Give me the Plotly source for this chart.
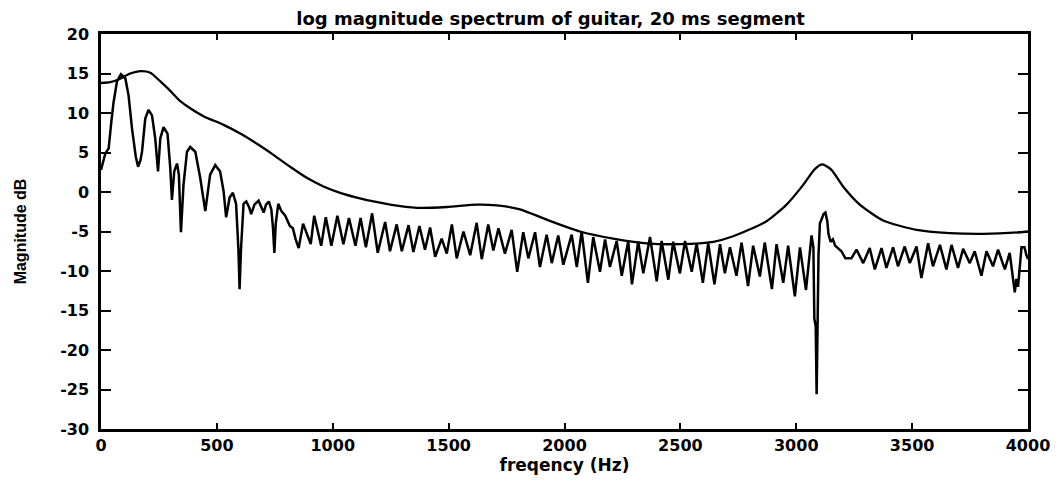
import plotly.graph_objects as go

# ---------------- data ----------------
# smooth (LPC-like) spectral envelope
env_freq = [0, 40, 80, 126, 170, 213, 256, 299, 342, 385, 442, 529, 601, 673, 744,
            816, 888, 960, 1032, 1104, 1176, 1248, 1362, 1492, 1621, 1708, 1808, 1923,
            2067, 2210, 2354, 2498, 2642, 2728, 2872, 2958, 3030, 3080, 3113, 3152,
            3202, 3274, 3375, 3519, 3662, 3806, 3964, 4000]
env_db = [13.8, 13.9, 14.3, 15.0, 15.3, 15.1, 14.0, 12.8, 11.5, 10.6, 9.6, 8.5, 7.4, 6.1, 4.7,
          3.2, 1.8, 0.7, -0.1, -0.7, -1.2, -1.6, -2.0, -1.9, -1.6, -1.7, -2.2, -3.5,
          -5.0, -5.9, -6.5, -6.6, -6.3, -5.6, -3.7, -1.6, 0.9, 2.9, 3.5, 2.8,
          0.7, -1.6, -3.6, -4.8, -5.2, -5.3, -5.1, -5.0]

# log magnitude spectrum (20 ms segment)
spec_freq = [0, 10, 19, 28, 33, 45, 54, 69, 86, 105, 119, 134, 150, 160, 170, 177, 191, 205,
             220, 234, 246, 256, 270, 287, 299, 306, 316, 328, 336, 345, 356, 371, 385, 407,
             428, 450, 471, 493, 514, 529, 540, 555, 569, 583, 593, 598, 604, 615, 627, 640,
             648, 662, 680, 693, 702, 712, 724, 735, 742, 748, 754, 765, 778, 795, 815, 828,
             840, 853, 872, 905, 920, 950, 970, 994, 1020, 1046, 1070, 1098, 1120, 1143, 1170,
             1194, 1226, 1247, 1276, 1298, 1327, 1348, 1374, 1398, 1420, 1442, 1470, 1492,
             1514, 1535, 1564, 1593, 1621, 1643, 1671, 1693, 1715, 1743, 1772, 1796, 1822,
             1844, 1873, 1894, 1923, 1945, 1973, 1995, 2031, 2053, 2074, 2101, 2124, 2153,
             2175, 2196, 2225, 2247, 2275, 2291, 2318, 2340, 2369, 2398, 2419, 2448, 2469,
             2498, 2520, 2549, 2570, 2597, 2620, 2647, 2671, 2692, 2714, 2742, 2764, 2792,
             2814, 2843, 2864, 2895, 2915, 2944, 2965, 2994, 3016, 3042, 3066, 3074, 3078,
             3084, 3088, 3092, 3096, 3102, 3110, 3118, 3126, 3134, 3139, 3148, 3158, 3168,
             3180, 3195, 3212, 3238, 3260, 3289, 3317, 3339, 3368, 3389, 3418, 3439, 3468,
             3490, 3519, 3540, 3569, 3590, 3620, 3648, 3670, 3698, 3720, 3749, 3770, 3799,
             3821, 3849, 3871, 3900, 3921, 3943, 3950, 3957, 3972, 3985, 3993, 4000]
spec_db = [2.8, 3.8, 4.9, 5.3, 5.5, 9.0, 11.3, 14.0, 14.9, 14.4, 12.2, 8.0, 4.5, 3.2, 4.0, 5.1,
           9.3, 10.4, 9.7, 6.8, 2.6, 6.8, 8.2, 7.4, 3.0, -1.0, 2.6, 3.6, 2.2, -5.1, 0.9, 5.1,
           5.7, 5.1, 1.8, -2.4, 2.2, 3.4, 2.6, 0.1, -3.2, -0.7, -0.1, -1.5, -7.3, -12.3, -7.3,
           -1.5, -1.2, -2.0, -2.8, -1.6, -1.1, -2.0, -2.6, -1.6, -1.2, -2.2, -4.5, -7.7, -4.0,
           -1.5, -2.4, -3.0, -4.3, -4.6, -6.0, -7.1, -4.0, -6.6, -3.0, -6.8, -3.2, -6.8, -3.0,
           -6.6, -3.3, -6.8, -3.3, -7.0, -2.7, -7.7, -3.8, -7.5, -4.1, -7.5, -4.2, -7.6, -4.3,
           -7.3, -4.5, -8.2, -5.9, -7.8, -4.1, -8.4, -5.0, -8.0, -3.9, -8.5, -4.1, -7.4, -4.6,
           -7.8, -4.8, -10.1, -5.1, -8.4, -5.1, -9.5, -5.4, -9.0, -5.5, -9.2, -5.4, -9.5, -5.0,
           -11.5, -5.7, -10.1, -6.0, -9.5, -6.2, -10.6, -6.2, -11.7, -6.3, -10.3, -5.7, -11.3,
           -6.2, -11.1, -6.3, -10.3, -6.2, -10.1, -6.5, -11.5, -6.5, -11.7, -6.6, -10.3, -7.0,
           -10.6, -6.4, -11.9, -6.8, -10.7, -6.4, -12.3, -6.6, -11.5, -6.8, -13.2, -7.0, -12.4,
           -5.5, -7.0, -16.0, -17.0, -25.6, -17.0, -8.0, -4.0, -3.3, -2.8, -2.6, -3.7, -5.3,
           -6.3, -6.0, -6.8, -7.1, -7.5, -8.4, -8.4, -7.3, -9.0, -7.1, -9.8, -7.1, -9.6, -7.0,
           -9.4, -6.9, -9.0, -6.9, -10.9, -6.5, -9.4, -6.7, -9.8, -6.7, -9.6, -7.2, -9.0, -7.5,
           -10.6, -7.5, -9.4, -7.3, -9.8, -7.7, -12.7, -11.0, -12.0, -7.0, -7.0, -8.0, -8.5]

x_ticks = [0, 500, 1000, 1500, 2000, 2500, 3000, 3500, 4000]
x_labels = ["0", "500", "1000", "1500", "2000", "2500", "3000", "3500", "4000"]
y_ticks = [-30, -25, -20, -15, -10, -5, 0, 5, 10, 15, 20]
y_labels = ["-30", "-25", "-20", "-15", "-10", "-5", "0", "5", "10", "15", "20"]

title_text = "log magnitude spectrum of guitar, 20 ms segment"
x_title = "freqency (Hz)"
y_title = "Magnitude dB"

# ---------------- figure ----------------
fig = go.Figure()
fig.add_trace(go.Scatter(x=spec_freq, y=spec_db, mode="lines",
                         line=dict(color="black", width=2.5), showlegend=False,
                         hoverinfo="skip"))
fig.add_trace(go.Scatter(x=env_freq, y=env_db, mode="lines",
                         line=dict(color="black", width=2.3, shape="spline", smoothing=0.6),
                         showlegend=False, hoverinfo="skip"))

tick_font = dict(family="DejaVu Sans", size=16, color="black", weight="bold")

fig.update_layout(
    width=1062, height=482,
    margin=dict(l=101, r=34, t=34, b=46, pad=0),
    paper_bgcolor="white", plot_bgcolor="white",
    title=dict(text=title_text, x=0.485, xref="paper", xanchor="center",
               y=1 - 19 / 482, yref="container", yanchor="middle",
               font=dict(family="DejaVu Sans", size=18, color="black", weight="bold")),
    xaxis=dict(range=[0, 4000], tickvals=x_ticks, ticktext=x_labels,
               ticks="inside", ticklen=6, tickwidth=2, tickcolor="black",
               showline=True, linecolor="black", linewidth=2.5, mirror="ticks",
               showgrid=False, zeroline=False, tickfont=tick_font,
               title=dict(text=x_title, standoff=3,
                          font=dict(family="DejaVu Sans", size=17, color="black", weight="bold"))),
    yaxis=dict(range=[-30, 20], tickvals=y_ticks, ticktext=y_labels,
               ticks="inside", ticklen=10, tickwidth=2, tickcolor="black",
               showline=True, linecolor="black", linewidth=2.5, mirror="ticks",
               showgrid=False, zeroline=False, tickfont=tick_font, ticklabelstandoff=6,
               title=dict(text=y_title, standoff=30,
                          font=dict(family="Liberation Sans Narrow, Liberation Sans", size=16,
                                    color="black", weight="bold"))),
)

fig.write_html("out.html", config={"displayModeBar": False},
               post_script="document.body.style.margin='0';")
